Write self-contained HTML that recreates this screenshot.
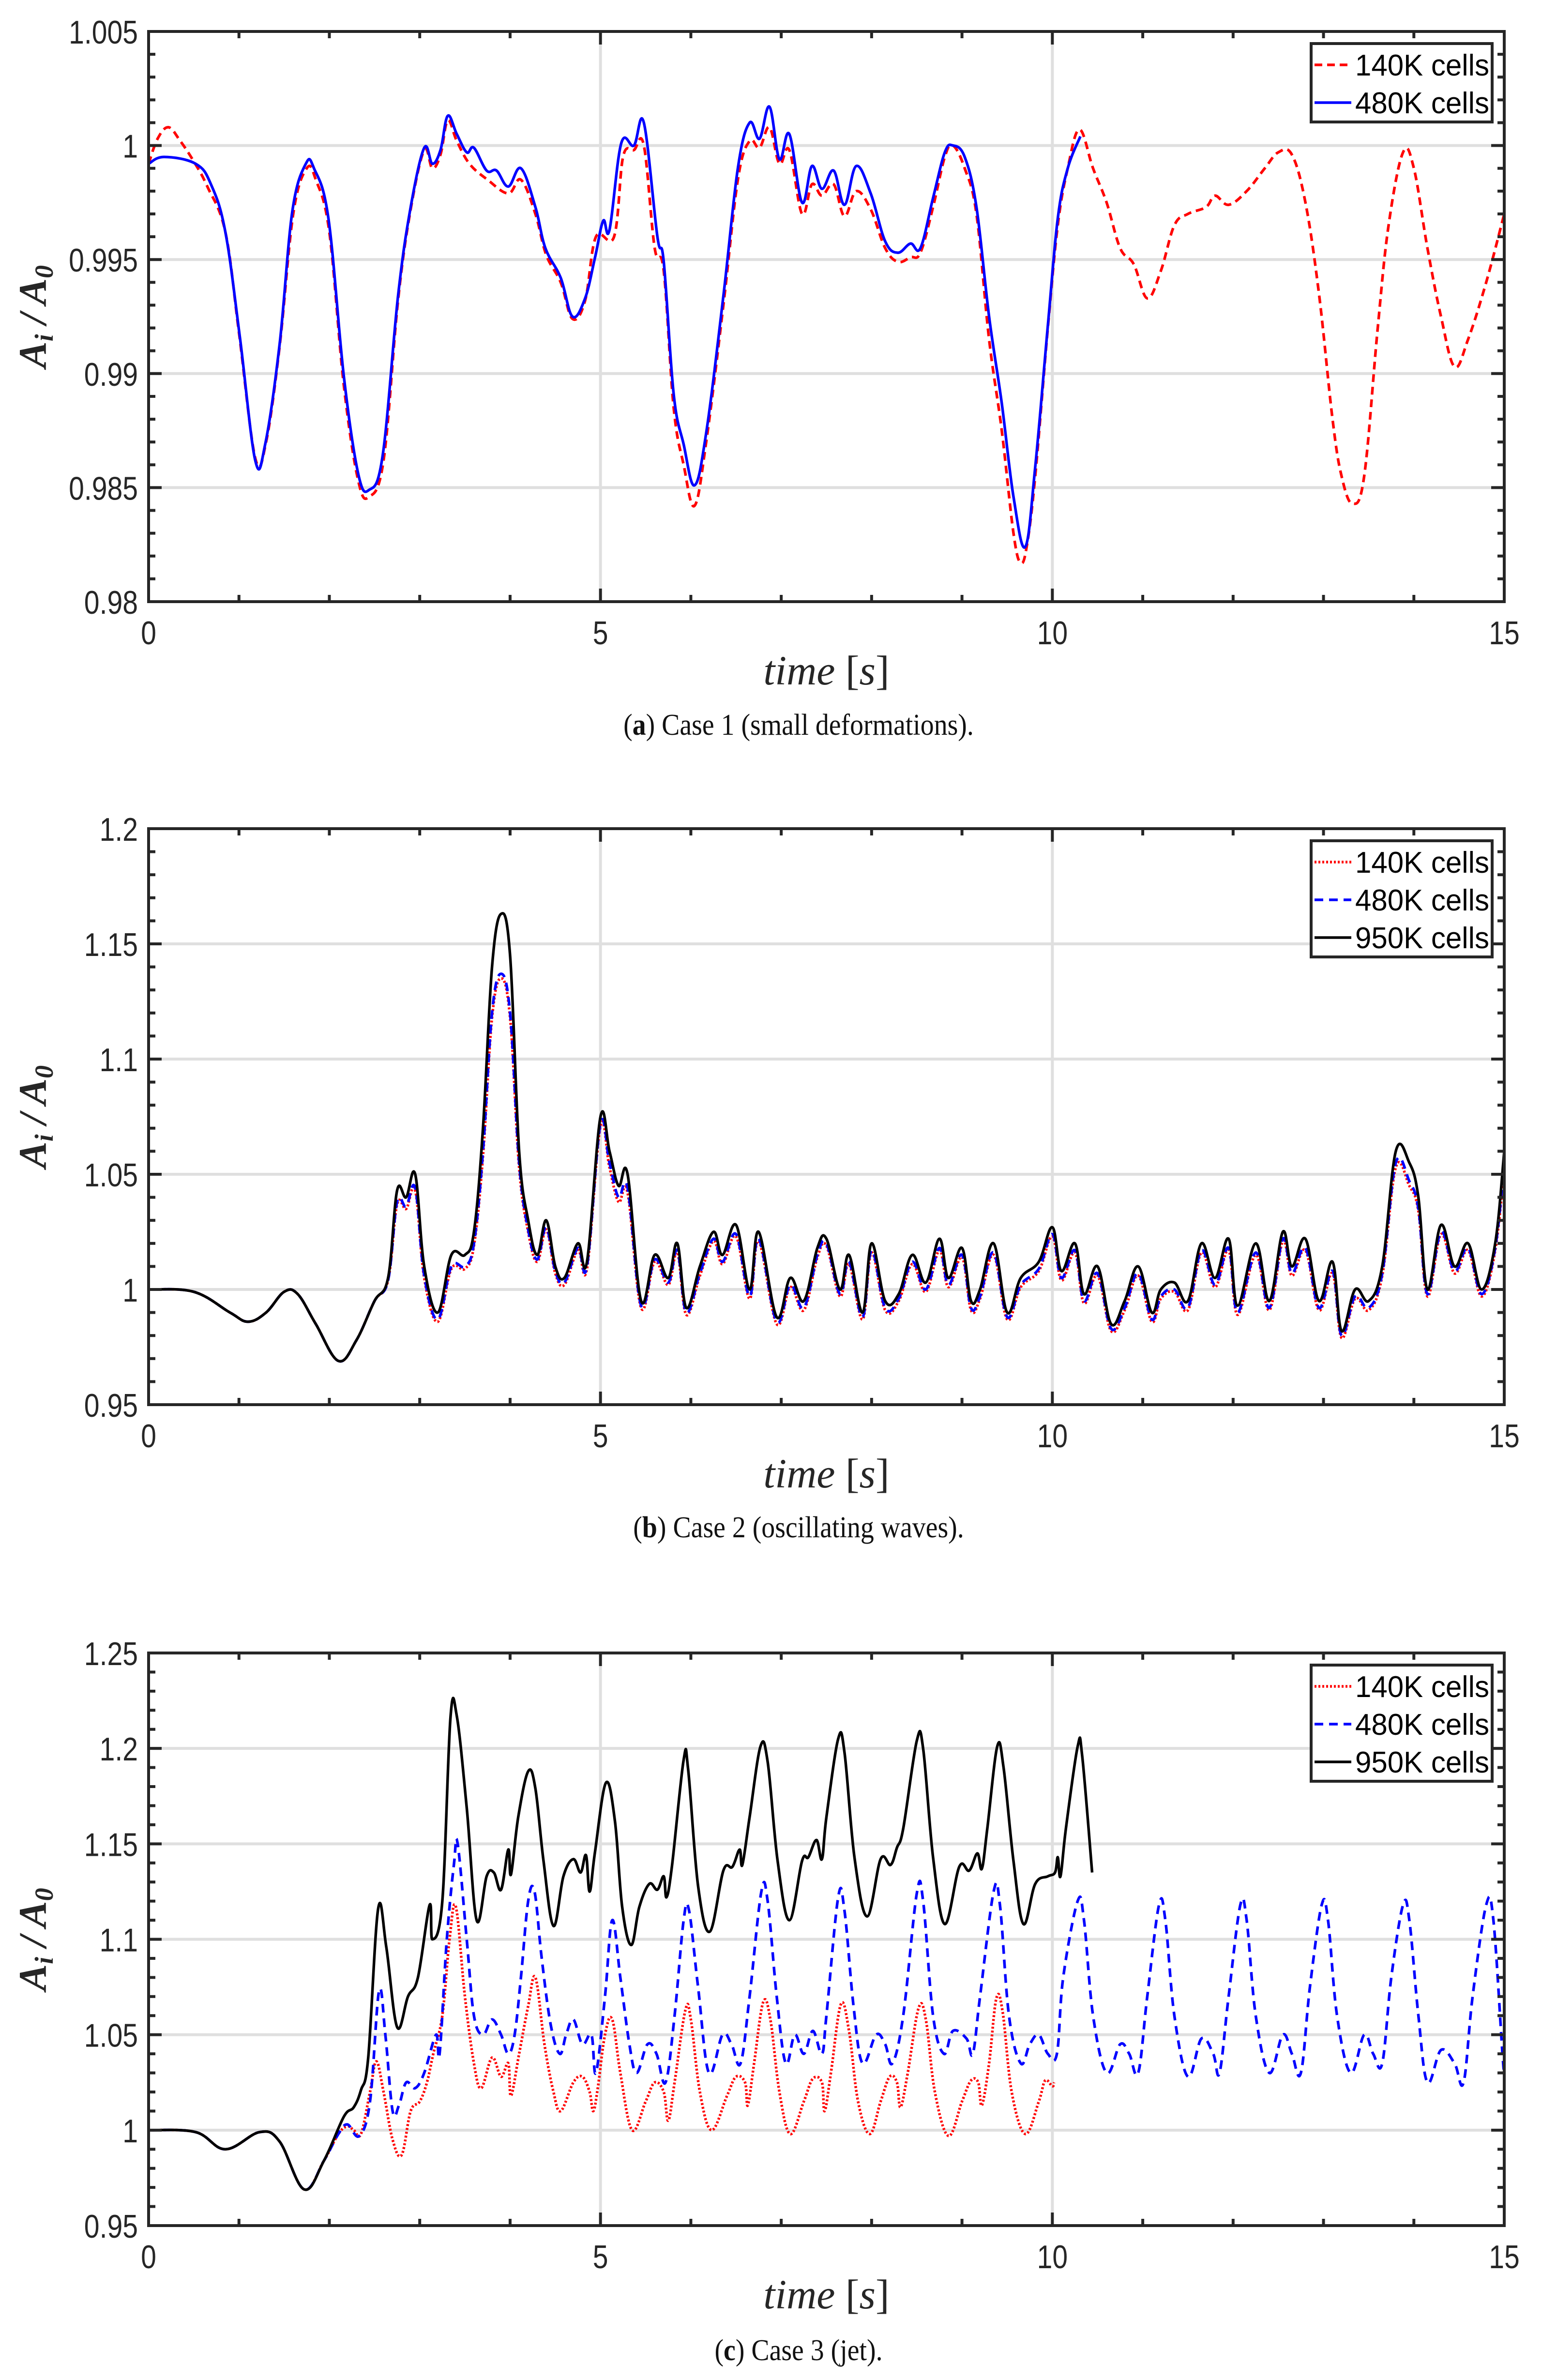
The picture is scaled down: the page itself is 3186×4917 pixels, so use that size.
<!DOCTYPE html>
<html><head><meta charset="utf-8"><style>
html,body{margin:0;padding:0;background:#fff;}
svg{display:block;}
</style></head><body>
<svg id="fig" width="3186" height="4917" viewBox="0 0 3186 4917" xmlns="http://www.w3.org/2000/svg"></svg>
<script>
// ---------- Panel (a) data ----------
const aRedT = [0,0.1,0.22,0.35,0.5,0.65,0.85,1.0,1.18,1.3,1.45,1.6,1.75,1.85,2.0,2.16,2.32,2.44,2.6,2.76,2.9,3.05,3.14,3.23,3.31,3.41,3.55,3.75,3.98,4.12,4.28,4.4,4.56,4.69,4.83,4.95,5.15,5.25,5.37,5.48,5.6,5.7,5.81,5.92,6.04,6.17,6.36,6.52,6.65,6.76,6.87,6.98,7.09,7.23,7.34,7.45,7.58,7.7,7.83,7.99,8.15,8.29,8.43,8.54,8.68,8.81,8.9,9.03,9.16,9.3,9.44,9.57,9.65,9.72,9.81,9.95,10.06,10.17,10.3,10.45,10.6,10.75,10.9,11.05,11.2,11.35,11.5,11.7,11.8,11.95,12.15,12.35,12.5,12.65,12.8,12.95,13.1,13.2,13.32,13.45,13.6,13.72,13.88,14.0,14.15,14.3,14.45,14.6,14.8,15.0];
const aRedV = [0.9992,1.0003,1.0008,1.0002,0.9993,0.9982,0.9962,0.9918,0.9863,0.9870,0.9912,0.9970,0.9990,0.9985,0.9962,0.9895,0.9853,0.9846,0.9862,0.9932,0.9972,0.9998,0.9990,0.9996,1.0011,1.0002,0.9992,0.9985,0.9979,0.9985,0.9970,0.9952,0.9940,0.9924,0.9932,0.9960,0.9960,0.9995,0.9998,1.0000,0.9955,0.9945,0.9885,0.9860,0.9842,0.9870,0.9930,0.9985,1.0002,0.9999,1.0008,0.9992,0.9998,0.9970,0.9983,0.9978,0.9983,0.9969,0.9980,0.9972,0.9955,0.9949,0.9951,0.9953,0.9973,0.9995,1.0000,0.9990,0.9970,0.9915,0.9875,0.9830,0.9817,0.9825,0.9855,0.9920,0.9965,0.9990,1.0007,0.9990,0.9975,0.9955,0.9948,0.9933,0.9945,0.9965,0.9970,0.9973,0.9978,0.9974,0.9980,0.9990,0.9997,0.9996,0.9975,0.9935,0.9880,0.9855,0.9843,0.9855,0.9920,0.9965,0.9997,0.9990,0.9955,0.9925,0.9903,0.9915,0.9940,0.9970];
const aBlueT = [0,0.17,0.52,0.69,0.85,1.01,1.18,1.29,1.45,1.59,1.74,1.83,1.99,2.16,2.32,2.44,2.59,2.76,2.9,3.05,3.14,3.23,3.31,3.41,3.52,3.6,3.74,3.85,3.98,4.12,4.28,4.39,4.56,4.69,4.83,4.94,5.03,5.1,5.23,5.37,5.48,5.63,5.7,5.81,5.92,6.04,6.17,6.36,6.52,6.65,6.76,6.87,6.98,7.09,7.23,7.34,7.45,7.58,7.7,7.83,7.99,8.15,8.29,8.43,8.54,8.68,8.81,8.9,9.03,9.16,9.3,9.44,9.57,9.7,9.81,9.95,10.06,10.17,10.31];
const aBlueV = [0.9992,0.9995,0.9992,0.9983,0.9962,0.9916,0.9862,0.9869,0.9913,0.9971,0.9992,0.9990,0.9968,0.9899,0.9856,0.9849,0.9864,0.9934,0.9973,0.9999,0.9992,0.9998,1.0013,1.0005,0.9997,0.9999,0.9989,0.9989,0.9982,0.9990,0.9973,0.9955,0.9942,0.9925,0.9933,0.9951,0.9967,0.9963,1.0001,1.0000,1.0010,0.9960,0.9949,0.9891,0.9869,0.9851,0.9874,0.9934,0.9990,1.0010,1.0003,1.0017,0.9994,1.0005,0.9975,0.9991,0.9981,0.9989,0.9974,0.9991,0.9979,0.9958,0.9953,0.9957,0.9955,0.9977,0.9997,1.0000,0.9995,0.9973,0.9925,0.9887,0.9846,0.9824,0.9859,0.9921,0.9968,0.9990,1.0004];
const aYTicks = [0.98,0.985,0.99,0.995,1,1.005];
const aYLabels = ["0.98","0.985","0.99","0.995","1","1.005"];

// ---------- Panel (b) data ----------
const bT = [0,0.5,0.9,1.1,1.3,1.5,1.65,1.85,2.1,2.3,2.5,2.65,2.75,2.85,2.95,3.05,3.2,3.35,3.5,3.6,3.7,3.8,3.9,4.0,4.1,4.2,4.3,4.4,4.5,4.6,4.75,4.85,5.0,5.1,5.2,5.3,5.45,5.6,5.75,5.85,5.95,6.1,6.25,6.35,6.5,6.65,6.75,6.95,7.1,7.25,7.4,7.5,7.65,7.75,7.9,8.0,8.15,8.3,8.45,8.6,8.75,8.85,9.0,9.1,9.2,9.35,9.5,9.65,9.85,10.0,10.1,10.25,10.35,10.5,10.65,10.8,10.95,11.1,11.2,11.35,11.5,11.65,11.8,11.95,12.05,12.25,12.4,12.55,12.65,12.8,12.95,13.1,13.2,13.35,13.5,13.65,13.8,13.95,14.05,14.15,14.3,14.45,14.6,14.75,14.9,15.0];
const bBlack = [1.0,0.999,0.99,0.986,0.99,0.999,0.998,0.985,0.969,0.978,0.995,1.005,1.043,1.04,1.05,1.01,0.99,1.015,1.015,1.025,1.07,1.14,1.163,1.145,1.06,1.03,1.015,1.03,1.01,1.005,1.02,1.012,1.075,1.06,1.045,1.05,0.995,1.015,1.005,1.02,0.992,1.01,1.025,1.015,1.028,1.0,1.025,0.988,1.005,0.995,1.018,1.022,1.0,1.015,0.99,1.02,0.995,0.998,1.015,1.003,1.022,1.005,1.018,0.995,1.0,1.02,0.99,1.005,1.012,1.027,1.008,1.02,0.998,1.01,0.985,0.995,1.01,0.99,1.0,1.003,0.995,1.02,1.005,1.022,0.993,1.02,0.995,1.025,1.01,1.022,0.995,1.012,0.982,1.0,0.995,1.01,1.06,1.055,1.04,1.0,1.028,1.01,1.02,1.0,1.02,1.06];
const bBlue = [1.0,0.999,0.99,0.986,0.99,0.999,0.998,0.985,0.969,0.978,0.995,1.004,1.038,1.036,1.044,1.006,0.987,1.01,1.01,1.02,1.06,1.12,1.137,1.12,1.055,1.026,1.013,1.027,1.008,1.003,1.018,1.01,1.072,1.055,1.04,1.044,0.993,1.013,1.003,1.017,0.99,1.007,1.022,1.012,1.024,0.997,1.022,0.986,1.002,0.992,1.015,1.02,0.998,1.012,0.988,1.017,0.992,0.996,1.012,1.0,1.018,1.002,1.015,0.992,0.997,1.016,0.988,1.002,1.009,1.024,1.005,1.017,0.995,1.007,0.983,0.992,1.007,0.987,0.997,1.0,0.992,1.017,1.002,1.018,0.99,1.016,0.992,1.022,1.007,1.018,0.992,1.008,0.98,0.997,0.992,1.007,1.055,1.047,1.035,0.998,1.025,1.008,1.018,0.998,1.018,1.055];
const bRed = [1.0,0.999,0.99,0.986,0.99,0.999,0.998,0.985,0.969,0.978,0.995,1.004,1.037,1.035,1.043,1.005,0.986,1.009,1.009,1.019,1.058,1.118,1.135,1.118,1.053,1.025,1.012,1.026,1.007,1.002,1.017,1.009,1.071,1.053,1.038,1.042,0.992,1.012,1.002,1.016,0.989,1.006,1.021,1.011,1.023,0.996,1.021,0.985,1.001,0.991,1.014,1.019,0.997,1.011,0.987,1.016,0.991,0.995,1.011,0.999,1.017,1.001,1.014,0.991,0.996,1.015,0.987,1.001,1.008,1.023,1.004,1.016,0.994,1.006,0.982,0.991,1.006,0.986,0.996,0.999,0.991,1.016,1.001,1.017,0.989,1.015,0.991,1.021,1.006,1.017,0.991,1.007,0.979,0.996,0.991,1.006,1.053,1.045,1.034,0.997,1.024,1.007,1.017,0.997,1.017,1.053];
const bYTicks = [0.95,1,1.05,1.1,1.15,1.2];
const bYLabels = ["0.95","1","1.05","1.1","1.15","1.2"];

// ---------- Panel (c) data ----------
const cBlackT = [0,0.52,0.85,1.23,1.45,1.72,1.94,2.16,2.27,2.35,2.43,2.54,2.63,2.75,2.87,2.98,3.11,3.14,3.25,3.34,3.41,3.52,3.63,3.74,3.82,3.9,3.98,4.01,4.09,4.2,4.28,4.37,4.48,4.59,4.7,4.78,4.84,4.88,4.94,5.06,5.16,5.24,5.34,5.43,5.54,5.63,5.7,5.73,5.79,5.92,5.97,6.08,6.21,6.36,6.46,6.54,6.57,6.65,6.77,6.85,6.96,7.09,7.23,7.3,7.39,7.45,7.5,7.63,7.7,7.81,7.95,8.1,8.21,8.28,8.35,8.5,8.57,8.68,8.81,8.97,9.08,9.17,9.22,9.28,9.39,9.46,9.57,9.68,9.81,9.95,10.03,10.06,10.09,10.15,10.28,10.33,10.44];
const cBlackV = [1.0,0.999,0.99,0.999,0.994,0.969,0.984,1.007,1.012,1.021,1.038,1.116,1.096,1.054,1.07,1.08,1.118,1.1,1.12,1.216,1.217,1.169,1.11,1.133,1.135,1.126,1.147,1.134,1.164,1.188,1.179,1.141,1.107,1.133,1.142,1.135,1.144,1.125,1.146,1.182,1.162,1.117,1.097,1.117,1.129,1.126,1.133,1.122,1.138,1.194,1.189,1.128,1.104,1.136,1.138,1.147,1.139,1.164,1.201,1.193,1.141,1.11,1.141,1.143,1.152,1.142,1.164,1.205,1.198,1.143,1.112,1.142,1.139,1.148,1.158,1.204,1.2,1.143,1.108,1.138,1.136,1.145,1.137,1.158,1.201,1.19,1.141,1.108,1.129,1.133,1.135,1.143,1.133,1.158,1.201,1.196,1.135];
const cRedT = [0,0.52,0.85,1.23,1.45,1.72,1.94,2.1,2.2,2.27,2.35,2.45,2.52,2.6,2.7,2.8,2.9,3.0,3.08,3.15,3.25,3.33,3.4,3.5,3.6,3.68,3.8,3.9,3.98,4.01,4.1,4.2,4.28,4.38,4.48,4.56,4.7,4.8,4.88,4.92,4.97,5.05,5.13,5.22,5.35,5.5,5.6,5.7,5.75,5.82,5.94,6.0,6.1,6.23,6.4,6.5,6.6,6.63,6.7,6.8,6.88,6.98,7.1,7.25,7.35,7.45,7.48,7.55,7.66,7.75,7.85,7.98,8.1,8.2,8.28,8.32,8.4,8.52,8.6,8.7,8.85,9.0,9.1,9.18,9.22,9.3,9.38,9.45,9.55,9.7,9.85,9.92,10.0,10.02];
const cRedV = [1.0,0.999,0.99,0.999,0.994,0.969,0.984,0.998,1.002,1.0,0.998,1.02,1.036,1.02,0.995,0.987,1.01,1.015,1.025,1.04,1.06,1.1,1.117,1.07,1.035,1.022,1.038,1.028,1.035,1.018,1.04,1.065,1.08,1.045,1.02,1.01,1.025,1.028,1.02,1.01,1.022,1.05,1.058,1.03,1.0,1.015,1.025,1.02,1.005,1.025,1.063,1.058,1.02,1.0,1.018,1.028,1.025,1.013,1.035,1.067,1.058,1.02,0.998,1.015,1.027,1.025,1.01,1.03,1.066,1.052,1.015,0.998,1.015,1.028,1.025,1.012,1.03,1.064,1.058,1.02,0.997,1.015,1.026,1.025,1.013,1.035,1.069,1.062,1.02,0.998,1.015,1.026,1.023,1.025];
const cBlueT = [0,0.52,0.85,1.23,1.45,1.72,1.94,2.1,2.2,2.33,2.45,2.55,2.62,2.7,2.77,2.85,2.95,3.05,3.18,3.22,3.3,3.38,3.42,3.52,3.6,3.7,3.8,3.9,3.98,4.05,4.12,4.2,4.27,4.35,4.45,4.55,4.62,4.7,4.8,4.9,4.95,5.05,5.13,5.22,5.32,5.4,5.52,5.62,5.72,5.82,5.92,5.98,6.08,6.2,6.35,6.45,6.55,6.65,6.78,6.85,6.95,7.05,7.15,7.25,7.35,7.45,7.5,7.63,7.7,7.8,7.9,8.05,8.15,8.23,8.35,8.5,8.57,8.68,8.8,8.9,9.05,9.12,9.2,9.35,9.42,9.52,9.65,9.75,9.85,9.95,10.05,10.12,10.28,10.35,10.45,10.6,10.75,10.85,10.95,11.05,11.18,11.25,11.35,11.5,11.65,11.78,11.85,11.95,12.08,12.15,12.25,12.4,12.55,12.65,12.75,12.85,12.98,13.05,13.15,13.3,13.45,13.55,13.65,13.75,13.88,13.95,14.05,14.15,14.3,14.45,14.55,14.65,14.8,14.88,14.98,15.0];
const cBlueV = [1.0,0.999,0.99,0.999,0.994,0.969,0.984,0.998,1.003,0.997,1.015,1.073,1.05,1.01,1.013,1.025,1.022,1.03,1.05,1.04,1.1,1.14,1.15,1.1,1.06,1.05,1.058,1.05,1.04,1.05,1.08,1.12,1.125,1.09,1.055,1.04,1.05,1.058,1.045,1.05,1.03,1.07,1.11,1.08,1.045,1.03,1.045,1.04,1.025,1.06,1.11,1.115,1.075,1.03,1.05,1.045,1.035,1.07,1.125,1.12,1.07,1.035,1.05,1.04,1.052,1.04,1.06,1.122,1.115,1.065,1.035,1.05,1.045,1.035,1.06,1.124,1.12,1.06,1.04,1.052,1.048,1.04,1.07,1.125,1.118,1.06,1.035,1.045,1.05,1.04,1.04,1.08,1.12,1.11,1.06,1.03,1.045,1.04,1.03,1.07,1.118,1.11,1.06,1.028,1.048,1.04,1.03,1.07,1.118,1.11,1.06,1.03,1.05,1.04,1.03,1.075,1.118,1.11,1.06,1.03,1.05,1.04,1.035,1.08,1.118,1.11,1.06,1.025,1.042,1.035,1.025,1.07,1.118,1.11,1.04,1.03];
const cYTicks = [0.95,1,1.05,1.1,1.15,1.2,1.25];
const cYLabels = ["0.95","1","1.05","1.1","1.15","1.2","1.25"];

const xTicks = [0,5,10,15];
const xLabels = ["0","5","10","15"];

const NS = "http://www.w3.org/2000/svg";
const svg = document.getElementById('fig');
const AX = '#262626';
const L = 307, R = 3108;

function mk(tag, attrs, parent) {
  const e = document.createElementNS(NS, tag);
  for (const k in attrs) e.setAttribute(k, attrs[k]);
  (parent || svg).appendChild(e);
  return e;
}
function txt(s, attrs, parent) {
  const e = mk('text', attrs, parent);
  e.textContent = s;
  return e;
}
// smooth path through points (Catmull-Rom -> cubic bezier)
function smoothPath(P) {
  let d = 'M' + P[0][0].toFixed(1) + ' ' + P[0][1].toFixed(1);
  const k = 0.18;
  for (let i = 0; i < P.length - 1; i++) {
    const p0 = P[Math.max(0, i - 1)], p1 = P[i], p2 = P[i + 1], p3 = P[Math.min(P.length - 1, i + 2)];
    const c1x = p1[0] + (p2[0] - p0[0]) * k, c1y = p1[1] + (p2[1] - p0[1]) * k;
    const c2x = p2[0] - (p3[0] - p1[0]) * k, c2y = p2[1] - (p3[1] - p1[1]) * k;
    d += 'C' + c1x.toFixed(1) + ' ' + c1y.toFixed(1) + ' ' + c2x.toFixed(1) + ' ' + c2y.toFixed(1) + ' ' + p2[0].toFixed(1) + ' ' + p2[1].toFixed(1);
  }
  return d;
}

function panel(cfg) {
  const g = mk('g', {});
  
  
  const T = cfg.top, B = cfg.bottom;
  const ymin = cfg.yTicks[0], ymax = cfg.yTicks[cfg.yTicks.length - 1];
  const xs = t => L + (t - 0) / 15 * (R - L);
  const ys = v => B - (v - ymin) / (ymax - ymin) * (B - T);
  const grid = mk('g', {}, g);
  
  
  xTicks.forEach(t => { if (t > 0 && t < 15) mk('line', {x1: xs(t), x2: xs(t), y1: T, y2: B, stroke: '#dfdfdf', 'stroke-width': 6}, grid); });
  cfg.yTicks.forEach(v => { if (v > ymin && v < ymax) mk('line', {x1: L, x2: R, y1: ys(v), y2: ys(v), stroke: '#dfdfdf', 'stroke-width': 6}, grid); });
  cfg.series.forEach(s => {
    const pts = s.t.map((t, i) => [xs(t), ys(s.v[i])]);
    const p = mk('path', {d: smoothPath(pts), fill: 'none', stroke: s.color, 'stroke-width': 5.5, 'stroke-linejoin': 'round'}, g);
    if (s.dash) p.setAttribute('stroke-dasharray', s.dash);
    
    
  });
  const tk = mk('g', {stroke: AX, 'stroke-width': 6}, g);
  
  
  for (let t = 0; t <= 15; t += 1) {
    const len = (t % 5 === 0) ? 27 : 14;
    mk('line', {x1: xs(t), x2: xs(t), y1: B, y2: B - len}, tk);
    mk('line', {x1: xs(t), x2: xs(t), y1: T, y2: T + len}, tk);
  }
  const step = cfg.yTicks[1] - cfg.yTicks[0];
  const minor = step / 5;
  const n = Math.round((ymax - ymin) / minor);
  for (let i = 0; i <= n; i++) {
    const v = ymin + i * minor;
    const len = (i % 5 === 0) ? 27 : 14;
    mk('line', {x1: L, x2: L + len, y1: ys(v), y2: ys(v)}, tk);
    mk('line', {x1: R, x2: R - len, y1: ys(v), y2: ys(v)}, tk);
  }
  const fr = mk('rect', {x: L, y: T, width: R - L, height: B - T, fill: 'none', stroke: AX, 'stroke-width': 6}, g);
  
  
  cfg.yTicks.forEach((v, i) => {
    const e = txt(cfg.yLabels[i], {x: 285, y: ys(v) + 25, 'text-anchor': 'end', 'font-family': 'Liberation Sans, sans-serif', 'font-size': 68, fill: AX}, g);
    
    
    e.setAttribute('textLength', (e.getComputedTextLength() * 0.84).toFixed(1));
    e.setAttribute('lengthAdjust', 'spacingAndGlyphs');
  });
  xTicks.forEach((t, i) => {
    const e = txt(xLabels[i], {x: xs(t), y: B + 88, 'text-anchor': 'middle', 'font-family': 'Liberation Sans, sans-serif', 'font-size': 68, fill: AX}, g);
    
    
    e.setAttribute('textLength', (e.getComputedTextLength() * 0.84).toFixed(1));
    e.setAttribute('lengthAdjust', 'spacingAndGlyphs');
  });
  const xt = txt('', {x: (L + R) / 2, y: B + 171, 'text-anchor': 'middle', 'font-family': 'Liberation Serif, serif', 'font-size': 86, fill: AX}, g);
  
  
  const ts1 = mk('tspan', {'font-style': 'italic'}, xt); ts1.textContent = 'time ';
  const ts2 = mk('tspan', {}, xt); ts2.textContent = '[';
  const ts3 = mk('tspan', {'font-style': 'italic'}, xt); ts3.textContent = 's';
  const ts4 = mk('tspan', {}, xt); ts4.textContent = ']';
  const cy = (T + B) / 2;
  const yt = txt('', {x: 0, y: 0, 'text-anchor': 'middle', 'font-family': 'Liberation Serif, serif', 'font-size': 82, 'font-style': 'italic', 'font-weight': 'bold', fill: AX, transform: 'translate(95,' + cy + ') rotate(-90)'}, g);
  
  
  const y1 = mk('tspan', {}, yt); y1.textContent = 'A';
  const y2 = mk('tspan', {'font-size': 54, dy: 14}, yt); y2.textContent = 'i';
  const y3 = mk('tspan', {dy: -14}, yt); y3.textContent = ' / A';
  const y4 = mk('tspan', {'font-size': 54, dy: 14}, yt); y4.textContent = '0';
  const lg = mk('g', {}, g);
  
  
  const lt = T + 25, nrow = cfg.series.length;
  mk('rect', {x: 2709, y: lt, width: 374, height: 6 + 78 * nrow, fill: '#fff', stroke: AX, 'stroke-width': 6}, lg);
  cfg.series.forEach((s, i) => {
    const base = lt + 66 + 78 * i;
    const ln = mk('line', {x1: 2716, x2: 2792, y1: base - 22, y2: base - 22, stroke: s.color, 'stroke-width': 5.5}, lg);
    if (s.dash) ln.setAttribute('stroke-dasharray', s.dash);
    
    
    const e = txt(s.label, {x: 2800, y: base, 'font-family': 'Liberation Sans, sans-serif', 'font-size': 62, fill: '#000', textLength: 277, lengthAdjust: 'spacingAndGlyphs'}, lg);
    
    
  });
  const cap = txt('', {x: 1650, y: cfg.capY, 'text-anchor': 'middle', 'font-family': 'Liberation Serif, serif', 'font-size': 62, fill: '#111'}, g);
  
  
  const c1 = mk('tspan', {}, cap); c1.textContent = '(';
  const c2 = mk('tspan', {'font-weight': 'bold'}, cap); c2.textContent = cfg.capLetter;
  const c3 = mk('tspan', {}, cap); c3.textContent = ') ' + cfg.capText;
  cap.setAttribute('textLength', (cap.getComputedTextLength() * 0.9).toFixed(1));
  cap.setAttribute('lengthAdjust', 'spacingAndGlyphs');
}

panel({name: 'panel-a-case1', top: 65, bottom: 1243, yTicks: aYTicks, yLabels: aYLabels,
  capY: 1518, capLetter: 'a', capText: 'Case 1 (small deformations).',
  series: [
    {name: 'series-140k', label: '140K cells', color: '#ff0000', dash: '16 10', t: aRedT, v: aRedV},
    {name: 'series-480k', label: '480K cells', color: '#0000ff', dash: null, t: aBlueT, v: aBlueV}
  ]});
panel({name: 'panel-b-case2', top: 1712, bottom: 2902, yTicks: bYTicks, yLabels: bYLabels,
  capY: 3176, capLetter: 'b', capText: 'Case 2 (oscillating waves).',
  series: [
    {name: 'series-140k', label: '140K cells', color: '#ff0000', dash: '4 4', t: bT, v: bRed},
    {name: 'series-480k', label: '480K cells', color: '#0000ff', dash: '18 12', t: bT, v: bBlue},
    {name: 'series-950k', label: '950K cells', color: '#000000', dash: null, t: bT, v: bBlack}
  ]});
panel({name: 'panel-c-case3', top: 3415, bottom: 4598, yTicks: cYTicks, yLabels: cYLabels,
  capY: 4876, capLetter: 'c', capText: 'Case 3 (jet).',
  series: [
    {name: 'series-140k', label: '140K cells', color: '#ff0000', dash: '4 4', t: cRedT, v: cRedV},
    {name: 'series-480k', label: '480K cells', color: '#0000ff', dash: '18 12', t: cBlueT, v: cBlueV},
    {name: 'series-950k', label: '950K cells', color: '#000000', dash: null, t: cBlackT, v: cBlackV}
  ]});
</script>
</body></html>
